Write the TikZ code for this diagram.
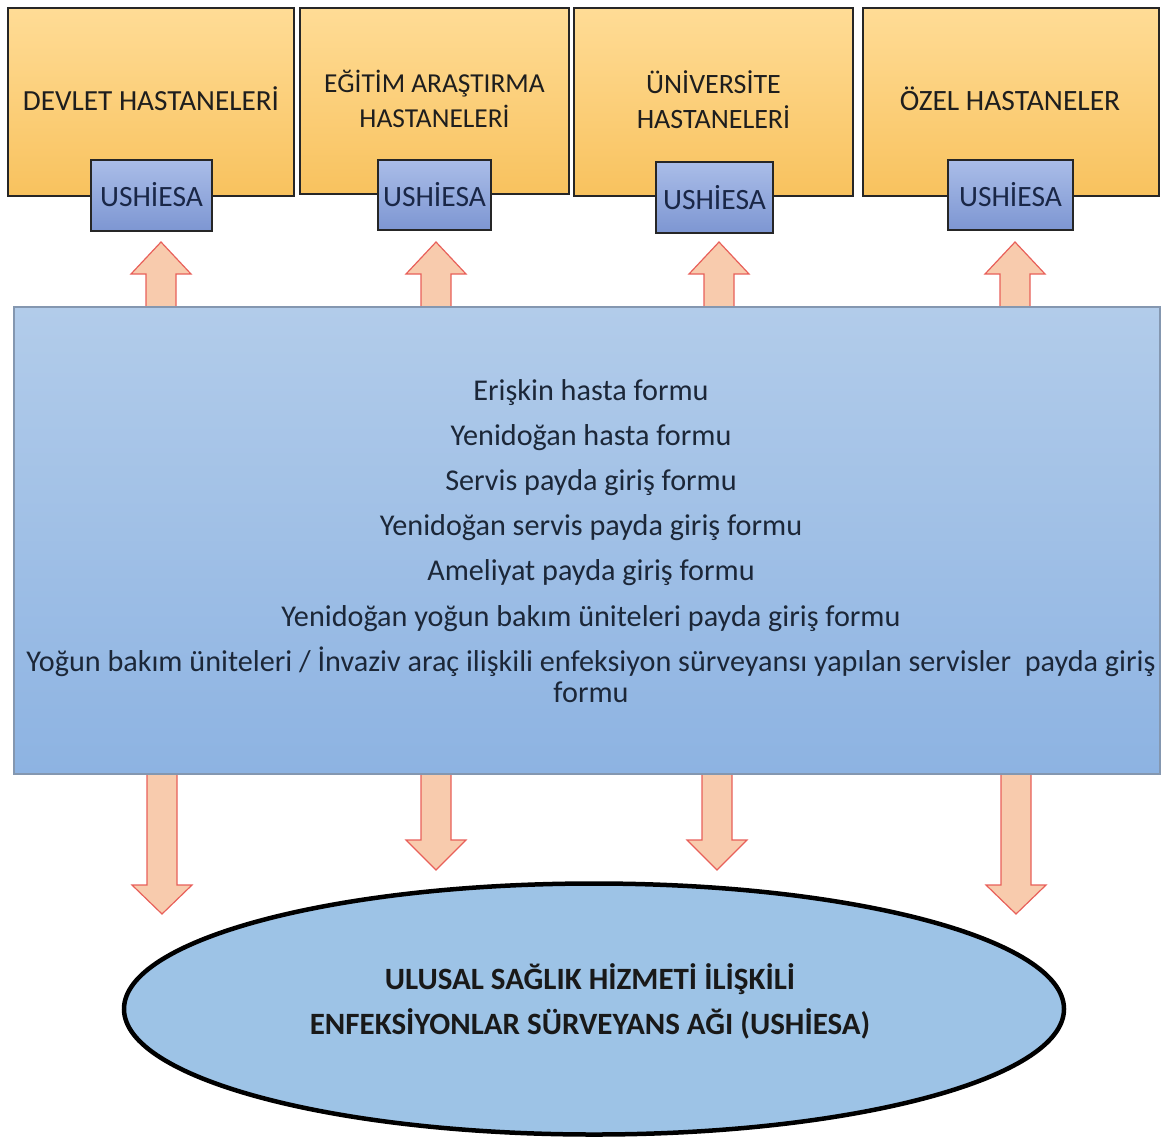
\documentclass[tikz,border=0pt]{standalone}
\usepackage{fontspec}
\setmainfont{Carlito}
\usetikzlibrary{shapes.geometric}
\definecolor{hospT}{HTML}{FFDC96}
\definecolor{hospB}{HTML}{F8C25E}
\definecolor{ushT}{HTML}{AABDE8}
\definecolor{ushB}{HTML}{7D96D2}
\definecolor{formT}{HTML}{B2CCEA}
\definecolor{formB}{HTML}{8DB3E2}
\definecolor{formLine}{HTML}{8497B0}
\definecolor{arrFill}{HTML}{F8CBAD}
\definecolor{arrLine}{HTML}{E8605A}
\definecolor{ellFill}{HTML}{9DC3E6}
\definecolor{txtDark}{HTML}{1E1E1E}
\definecolor{txtNavy}{HTML}{1A2747}
\definecolor{txtForm}{HTML}{1C2738}
\newcommand\blockarrow[4]{%
  \filldraw[arrowsty] (#1-15,#2) -- (#1-15,#3) -- (#1-30,#3) -- (#1,#4)
    -- (#1+30,#3) -- (#1+15,#3) -- (#1+15,#2) -- cycle;}
\begin{document}
\begin{tikzpicture}[x=1pt,y=-1pt,
  hosp/.style={draw=black!85, line width=2.5pt, top color=hospT, bottom color=hospB,
    inner sep=0pt},
  hosptext/.style={text=txtDark, align=center, inner sep=0pt,
    font=\fontsize{#1}{35}\selectfont},
  hosptext/.default=29.2,
  ushbox/.style={draw=black!85, line width=2pt, top color=ushT, bottom color=ushB,
    text=txtNavy, inner sep=0pt, font=\fontsize{29.5}{34}\selectfont},
  formbox/.style={draw=formLine, line width=1.5pt, top color=formT, bottom color=formB,
    inner sep=0pt},
  arrowsty/.style={fill=arrFill, draw=arrLine, line width=1.2pt, line join=miter},
  net/.style={ellipse, draw=black, line width=4.5pt, fill=ellFill, inner sep=0pt}
]
\useasboundingbox (0,0) rectangle (1174,1138);

% arrows (drawn first, shafts hidden under the form box)
\blockarrow{161}{310}{274}{242}
\blockarrow{436}{310}{274}{242}
\blockarrow{719}{310}{274}{242}
\blockarrow{1015}{310}{274}{242}
\blockarrow{162}{772}{885}{914}
\blockarrow{436}{772}{840}{870}
\blockarrow{717}{772}{840}{870}
\blockarrow{1016}{772}{885}{914}

% central forms box
\node[formbox, minimum width=1146pt, minimum height=467pt] (forms) at (587,540.5) {};
\node[text=txtForm, align=center, font=\fontsize{30.2}{45.2}\selectfont] (formtext) at (591,541)
 {Erişkin hasta formu\\
  Yenidoğan hasta formu\\
  Servis payda giriş formu\\
  Yenidoğan servis payda giriş formu\\
  Ameliyat payda giriş formu\\
  Yenidoğan yoğun bakım üniteleri payda giriş formu\\
  Yoğun bakım üniteleri / İnvaziv araç ilişkili enfeksiyon sürveyansı yapılan servisler\ \ payda giriş\\[-14pt]
  formu};

% hospital boxes
\node[hosp, minimum width=286pt, minimum height=188pt] (h1) at (151,102) {};
\node[hosp, minimum width=269pt, minimum height=186pt] (h2) at (434.5,101) {};
\node[hosp, minimum width=279pt, minimum height=188pt] (h3) at (713.5,102) {};
\node[hosp, minimum width=296pt, minimum height=188pt] (h4) at (1011,102) {};
\node[hosptext] (t1) at (151,99) {DEVLET HASTANELERİ};
\node[hosptext=27.4] (t2) at (434.5,98.5) {EĞİTİM ARAŞTIRMA\\HASTANELERİ};
\node[hosptext=28] (t3) at (713.5,100) {ÜNİVERSİTE\\HASTANELERİ};
\node[hosptext=29.5] (t4) at (1010,99) {ÖZEL HASTANELER};

% USHIESA boxes
\node[ushbox, minimum width=121pt, minimum height=71pt] (u1) at (151.5,195.5) {\raisebox{2pt}{USHİESA}};
\node[ushbox, minimum width=113pt, minimum height=70pt] (u2) at (434.5,195) {\raisebox{2pt}{USHİESA}};
\node[ushbox, minimum width=117pt, minimum height=71pt] (u3) at (714.5,197.5) {\raisebox{1pt}{USHİESA}};
\node[ushbox, minimum width=125pt, minimum height=70pt] (u4) at (1010.5,195) {\raisebox{2pt}{USHİESA}};

% network ellipse
\node[net, minimum width=940pt, minimum height=251pt] (network) at (594,1009) {};
\node[align=center, text=black!90, font=\bfseries\fontsize{31}{45}\selectfont] (nettext) at (590,1001)
 {ULUSAL SAĞLIK HİZMETİ İLİŞKİLİ\\ENFEKSİYONLAR SÜRVEYANS AĞI (USHİESA)};
\end{tikzpicture}
\end{document}
